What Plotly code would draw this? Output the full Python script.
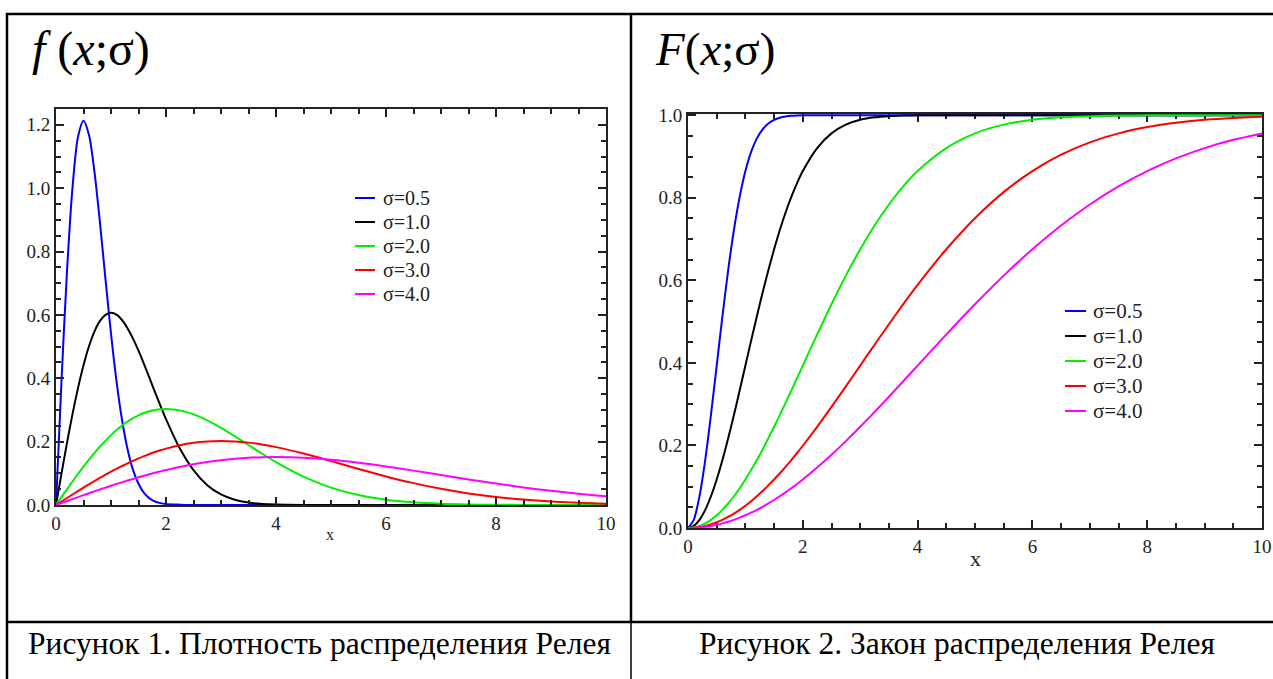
import plotly.graph_objects as go

# ---------------- data ----------------
x_vals = [0, 0.1, 0.2, 0.3, 0.4, 0.5, 0.6, 0.7, 0.8, 0.9, 1.0, 1.1, 1.2, 1.3, 1.4, 1.5,
          1.6, 1.7, 1.8, 1.9, 2.0, 2.25, 2.5, 2.75, 3.0, 3.25, 3.5, 3.75, 4.0, 4.5, 5.0,
          5.5, 6.0, 6.5, 7.0, 7.5, 8.0, 8.5, 9.0, 9.5, 10.0]

series_names = ["σ=0.5", "σ=1.0", "σ=2.0", "σ=3.0", "σ=4.0"]
series_colors = ["#0000ff", "#000000", "#00f000", "#ff0000", "#ff00ff"]

pdf_s05 = [0, 0.392, 0.738, 1.002, 1.162, 1.213, 1.168, 1.051, 0.890, 0.712, 0.541, 0.391,
           0.269, 0.177, 0.111, 0.067, 0.038, 0.021, 0.011, 0.006, 0.003, 0.001, 0, 0, 0, 0,
           0, 0, 0, 0, 0, 0, 0, 0, 0, 0, 0, 0, 0, 0, 0]
pdf_s10 = [0, 0.0995, 0.196, 0.287, 0.369, 0.441, 0.501, 0.548, 0.581, 0.600, 0.6065, 0.601,
           0.584, 0.558, 0.525, 0.487, 0.445, 0.401, 0.356, 0.313, 0.271, 0.179, 0.110,
           0.0626, 0.0333, 0.0166, 0.0077, 0.0033, 0.0013, 0.0002, 0, 0, 0, 0, 0, 0, 0, 0,
           0, 0, 0]
pdf_s20 = [0, 0.0250, 0.0498, 0.0742, 0.0980, 0.1212, 0.1434, 0.1646, 0.1846, 0.2033, 0.2206,
           0.2364, 0.2506, 0.2631, 0.2739, 0.2830, 0.2904, 0.2961, 0.3001, 0.3025, 0.3033,
           0.2987, 0.2861, 0.2672, 0.2435, 0.2170, 0.1893, 0.1616, 0.1353, 0.0895, 0.0549,
           0.0313, 0.0167, 0.0083, 0.0038, 0.0017, 0.0007, 0.0003, 0.0001, 0, 0]
pdf_s30 = [0, 0.0111, 0.0222, 0.0332, 0.0440, 0.0548, 0.0653, 0.0757, 0.0858, 0.0956, 0.1051,
           0.1143, 0.1231, 0.1315, 0.1395, 0.1471, 0.1542, 0.1609, 0.1671, 0.1727, 0.1779,
           0.1887, 0.1963, 0.2008, 0.2022, 0.2008, 0.1969, 0.1908, 0.1827, 0.1623, 0.1386,
           0.1139, 0.0902, 0.0691, 0.0511, 0.0366, 0.0254, 0.0171, 0.0111, 0.0070, 0.0043]
pdf_s40 = [0, 0.0062, 0.0125, 0.0187, 0.0249, 0.0310, 0.0371, 0.0431, 0.0490, 0.0548, 0.0606,
           0.0662, 0.0717, 0.0771, 0.0823, 0.0874, 0.0923, 0.0971, 0.1017, 0.1061, 0.1103,
           0.1200, 0.1285, 0.1357, 0.1415, 0.1460, 0.1492, 0.1510, 0.1516, 0.1494, 0.1431,
           0.1336, 0.1218, 0.1085, 0.0946, 0.0808, 0.0677, 0.0556, 0.0448, 0.0354, 0.0275]

cdf_s05 = [0, 0.0198, 0.0769, 0.1647, 0.2739, 0.3935, 0.5132, 0.6247, 0.7220, 0.8021, 0.8647,
           0.9111, 0.9439, 0.9660, 0.9802, 0.9889, 0.9940, 0.9969, 0.9985, 0.9993, 0.9997,
           1.0, 1.0, 1.0, 1.0, 1.0, 1.0, 1.0, 1.0, 1.0, 1.0, 1.0, 1.0, 1.0, 1.0, 1.0, 1.0,
           1.0, 1.0, 1.0, 1.0]
cdf_s10 = [0, 0.0050, 0.0198, 0.0440, 0.0769, 0.1175, 0.1647, 0.2173, 0.2739, 0.3330, 0.3935,
           0.4539, 0.5132, 0.5704, 0.6247, 0.6753, 0.7220, 0.7643, 0.8021, 0.8355, 0.8647,
           0.9204, 0.9561, 0.9772, 0.9889, 0.9949, 0.9978, 0.9991, 0.9997, 1.0, 1.0, 1.0,
           1.0, 1.0, 1.0, 1.0, 1.0, 1.0, 1.0, 1.0, 1.0]
cdf_s20 = [0, 0.0012, 0.0050, 0.0112, 0.0198, 0.0308, 0.0440, 0.0594, 0.0769, 0.0963, 0.1175,
           0.1403, 0.1647, 0.1904, 0.2173, 0.2452, 0.2739, 0.3032, 0.3330, 0.3632, 0.3935,
           0.4689, 0.5422, 0.6114, 0.6753, 0.7329, 0.7837, 0.8276, 0.8647, 0.9204, 0.9561,
           0.9772, 0.9889, 0.9949, 0.9978, 0.9991, 0.9997, 0.9999, 1.0, 1.0, 1.0]
cdf_s30 = [0, 0.0006, 0.0022, 0.0050, 0.0089, 0.0138, 0.0198, 0.0269, 0.0349, 0.0440, 0.0540,
           0.0650, 0.0769, 0.0896, 0.1032, 0.1175, 0.1326, 0.1483, 0.1647, 0.1817, 0.1993,
           0.2452, 0.2934, 0.3430, 0.3935, 0.4439, 0.4937, 0.5422, 0.5889, 0.6753, 0.7506,
           0.8137, 0.8647, 0.9044, 0.9343, 0.9561, 0.9714, 0.9819, 0.9889, 0.9934, 0.9961]
cdf_s40 = [0, 0.0003, 0.0012, 0.0028, 0.0050, 0.0078, 0.0112, 0.0152, 0.0198, 0.0250, 0.0308,
           0.0371, 0.0440, 0.0514, 0.0594, 0.0678, 0.0769, 0.0863, 0.0963, 0.1067, 0.1175,
           0.1463, 0.1774, 0.2105, 0.2452, 0.2811, 0.3181, 0.3556, 0.3935, 0.4689, 0.5422,
           0.6114, 0.6753, 0.7329, 0.7837, 0.8276, 0.8647, 0.8954, 0.9204, 0.9404, 0.9561]

pdf_series = [pdf_s05, pdf_s10, pdf_s20, pdf_s30, pdf_s40]
cdf_series = [cdf_s05, cdf_s10, cdf_s20, cdf_s30, cdf_s40]

left_title = "<i>f</i> (<i>x</i>;σ)"
right_title = "<i>F</i>(<i>x</i>;σ)"
caption_left = "Рисунок 1. Плотность распределения Релея"
caption_right = "Рисунок 2. Закон распределения Релея"
x_ticks = [0, 2, 4, 6, 8, 10]
y_ticks_pdf = [0.0, 0.2, 0.4, 0.6, 0.8, 1.0, 1.2]
y_ticks_cdf = [0.0, 0.2, 0.4, 0.6, 0.8, 1.0]

# ---------------- layout helpers ----------------
W, H = 1273, 679
SERIF = "Liberation Serif, Times New Roman, serif"
INK = "#222222"


def px(x):
    return x / W


def py(y):
    return 1 - y / H


fig = go.Figure()

for name, color, ys in zip(series_names, series_colors, pdf_series):
    fig.add_trace(go.Scatter(x=x_vals, y=ys, mode="lines", name=name, showlegend=False,
                             line=dict(color=color, width=2, shape="spline", smoothing=0.8),
                             xaxis="x", yaxis="y"))
for name, color, ys in zip(series_names, series_colors, cdf_series):
    fig.add_trace(go.Scatter(x=x_vals, y=ys, mode="lines", name=name, showlegend=False,
                             line=dict(color=color, width=2, shape="spline", smoothing=0.8),
                             xaxis="x2", yaxis="y2"))

axis_common = dict(showline=True, linecolor=INK, linewidth=2, mirror="ticks",
                   ticks="inside", tickcolor=INK, tickwidth=2, showgrid=False,
                   zeroline=False, tickfont=dict(family=SERIF, size=19, color=INK))
minor_x = dict(dtick=0.5, ticks="inside", ticklen=5, tickcolor=INK, tickwidth=1.5)
minor_y = dict(dtick=0.05, ticks="inside", ticklen=5, tickcolor=INK, tickwidth=1.5)

fig.update_layout(
    width=W, height=H, autosize=False,
    margin=dict(l=0, r=0, t=0, b=0, pad=0, autoexpand=False),
    paper_bgcolor="white", plot_bgcolor="white",
    showlegend=False,
    xaxis=dict(domain=[px(56), px(606)], range=[0, 10], tickvals=x_ticks, ticklen=8,
               minor=minor_x, anchor="y", **axis_common),
    yaxis=dict(domain=[py(505), py(109)], range=[0, 1.25], tickvals=y_ticks_pdf,
               tickformat=".1f", ticklen=8, minor=minor_y, anchor="x", **axis_common),
    xaxis2=dict(domain=[px(688), px(1262)], range=[0, 10], tickvals=x_ticks, ticklen=8,
                minor=minor_x, anchor="y2", layer="below traces", **axis_common),
    yaxis2=dict(domain=[py(528), py(114)], range=[0, 1.003], tickvals=y_ticks_cdf,
                tickformat=".1f", ticklen=8, minor=minor_y, anchor="x2",
                layer="below traces", **axis_common),
)

# table borders
border = dict(color="black", width=2.5)
shapes = [
    dict(type="line", x0=px(6), x1=px(W + 5), y0=py(14), y1=py(14), line=border),
    dict(type="line", x0=px(7), x1=px(7), y0=py(13), y1=py(H + 5), line=border),
    dict(type="line", x0=px(631), x1=px(631), y0=py(13), y1=py(622), line=border),
    dict(type="line", x0=px(631), x1=px(631), y0=py(622), y1=py(H + 5),
         line=dict(color="black", width=1.5)),
    dict(type="line", x0=px(6), x1=px(W + 5), y0=py(622), y1=py(622), line=border),
]

annotations = [
    dict(text=left_title, x=px(30), y=py(49), xanchor="left", yanchor="middle",
         font=dict(family=SERIF, size=48, color="black")),
    dict(text=right_title, x=px(653), y=py(49), xanchor="left", yanchor="middle",
         font=dict(family=SERIF, size=47, color="black")),
    dict(text=caption_left, x=px(319), y=py(643), xanchor="center", yanchor="middle",
         font=dict(family=SERIF, size=31.5, color="black")),
    dict(text=caption_right, x=px(957), y=py(643), xanchor="center", yanchor="middle",
         font=dict(family=SERIF, size=31.5, color="black")),
    dict(text="x", x=px(330), y=py(534), xanchor="center", yanchor="middle",
         font=dict(family=SERIF, size=16, color=INK)),
    dict(text="x", x=px(975), y=py(558), xanchor="center", yanchor="middle",
         font=dict(family=SERIF, size=22, color=INK)),
]

# legends (sample line + label), one per panel
legend_specs = [
    dict(x_line=355, x_text=381, y0=198, step=24, size=20, line_len=20),
    dict(x_line=1065, x_text=1091, y0=311, step=25, size=21, line_len=21),
]
for spec in legend_specs:
    for i, (name, color) in enumerate(zip(series_names, series_colors)):
        yy = spec["y0"] + i * spec["step"]
        shapes.append(dict(type="line", x0=px(spec["x_line"]),
                           x1=px(spec["x_line"] + spec["line_len"]),
                           y0=py(yy), y1=py(yy), line=dict(color=color, width=2)))
        annotations.append(dict(text=name, x=px(spec["x_text"]), y=py(yy),
                                xanchor="left", yanchor="middle",
                                font=dict(family=SERIF, size=spec["size"], color=INK)))

for s in shapes:
    s.update(xref="paper", yref="paper")
for a in annotations:
    a.update(xref="paper", yref="paper", showarrow=False)
fig.update_layout(shapes=shapes, annotations=annotations)

fig.write_html("out.html", config={"displayModeBar": False},
               post_script="document.body.style.margin='0';document.body.style.overflow='hidden';")
